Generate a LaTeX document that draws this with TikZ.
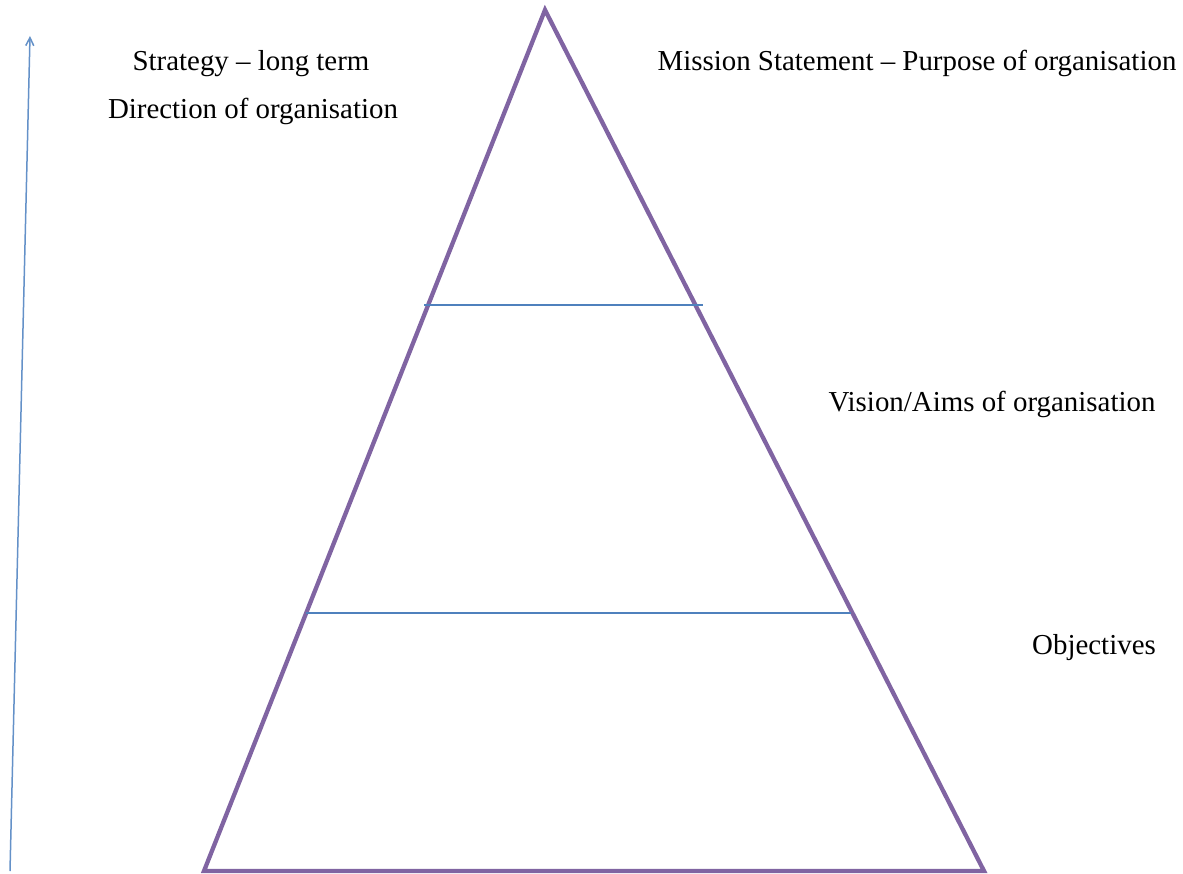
\documentclass[tikz,border=0pt]{standalone}
\usepackage{fontspec}
\setmainfont{Liberation Serif}
\usetikzlibrary{arrows.meta}
\definecolor{tripurple}{RGB}{128,100,162}
\definecolor{lineblue}{RGB}{79,129,189}
\definecolor{arrowblue}{RGB}{100,145,200}
\begin{document}
\begin{tikzpicture}[x=1pt,y=-1pt,
  lbl/.style={anchor=base,inner sep=0pt,font=\fontsize{28.9}{34}\selectfont},
  tri/.style={draw=tripurple,line width=4.3pt,line join=miter},
  level/.style={draw=lineblue,line width=1.8pt},
  growth/.style={draw=arrowblue,line width=1.5pt,-{Straight Barb[length=8pt,width=8pt]}}]
\useasboundingbox (0,0) rectangle (1183,874);
\coordinate (apex) at (545,10);
\coordinate (bl) at (204,871);
\coordinate (br) at (984,871);
\draw[tri] (apex) -- (bl) -- (br) -- cycle;
\coordinate (l1a) at (424,305);
\coordinate (l1b) at (703,305);
\coordinate (l2a) at (306,613);
\coordinate (l2b) at (851,613);
\draw[level] (l1a) -- (l1b);
\draw[level] (l2a) -- (l2b);
\coordinate (arrS) at (10,871);
\coordinate (arrE) at (30,36);
\draw[growth] (arrS) -- (arrE);
\node[lbl] (strat) at (251,71) {Strategy -- long term};
\node[lbl] (dir) at (253,119) {Direction of organisation};
\node[lbl] (mission) at (917,71) {Mission Statement -- Purpose of organisation};
\node[lbl] (vision) at (992,411) {Vision/Aims of organisation};
\node[lbl] (obj) at (1094,654) {Objectives};
\end{tikzpicture}
\end{document}
